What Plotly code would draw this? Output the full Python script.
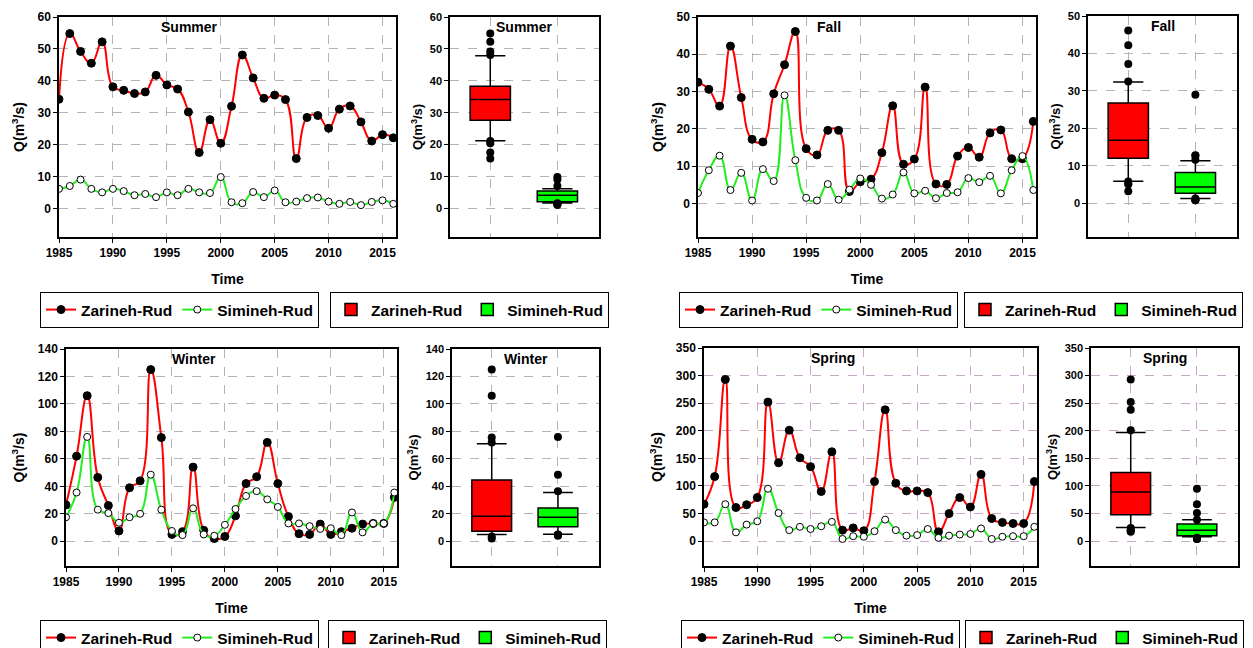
import numpy as np
import plotly.graph_objects as go

years = list(range(1985, 2017))

summer_zar = [34.2, 54.8, 49.2, 45.5, 52.2, 38.1, 37.0, 36.0, 36.5, 41.7, 38.7, 37.4, 30.2, 17.5, 27.8, 20.4,
              32.0, 48.1, 40.9, 34.5, 35.5, 34.1, 15.6, 28.5, 29.1, 25.1, 31.1, 32.1, 27.1, 21.1, 23.1, 22.1]
summer_sim = [6.1, 7.0, 9.0, 6.1, 5.0, 6.1, 5.4, 4.1, 4.5, 3.5, 5.0, 4.1, 6.1, 5.0, 4.8, 9.8,
              1.9, 1.6, 5.1, 3.5, 5.6, 1.9, 2.1, 3.2, 3.4, 2.1, 1.4, 2.0, 1.0, 2.0, 2.5, 1.4]
fall_zar = [32.5, 30.6, 26.1, 42.2, 28.4, 17.2, 16.5, 29.4, 37.2, 46.1, 14.7, 13.0, 19.6, 19.6, 3.2, 5.8,
            6.5, 13.6, 26.2, 10.5, 11.9, 31.2, 5.2, 5.1, 12.7, 15.0, 12.4, 18.9, 19.7, 12.0, 12.0, 22.0]
fall_sim = [2.8, 8.9, 12.8, 3.6, 8.2, 0.8, 9.2, 6.0, 29.0, 11.6, 1.5, 0.8, 5.2, 1.0, 3.7, 6.7,
            5.0, 1.3, 2.4, 8.3, 2.7, 3.4, 1.4, 2.8, 3.0, 6.8, 5.7, 7.4, 2.7, 8.9, 12.7, 3.6]
winter_zar = [26.5, 62, 106, 46.5, 26, 7.5, 39, 44, 125, 75.5, 5, 7, 54, 8, 2, 3.5,
              18.5, 42, 47, 72, 42, 18, 5.5, 5, 12.5, 5, 7, 9.5, 12.5, 13, 13, 32]
winter_sim = [17.5, 35.5, 76, 23, 20.5, 13.5, 17.5, 20, 48.5, 23, 7.5, 4.5, 24, 5, 4, 12,
              23.5, 33, 36.5, 30.5, 25, 13, 13, 11, 9, 9.5, 4.5, 21, 6.5, 13, 13, 35.5]
spring_zar = [67, 117, 293, 61, 66, 79, 252, 142, 201, 151, 135, 90, 162, 20, 24, 19,
              108, 238, 105, 91, 91, 88, 17, 50, 79, 62, 121, 41, 34, 32, 32, 108]
spring_sim = [34, 34, 67, 16, 30, 36, 95, 51, 20, 26, 22, 27, 35, 4, 9, 8,
              18, 39, 20, 10, 11, 22, 6, 10, 12, 13, 23, 4, 8, 9, 9, 26]

seasons = ["Summer", "Fall", "Winter", "Spring"]
series_names = ["Zarineh-Rud", "Simineh-Rud"]
year_ticks = [1985, 1990, 1995, 2000, 2005, 2010, 2015]

OFF = 8  # page body margin
W, H = 1253 - OFF, 648 - OFF

def px_x(a, b):
    return [(a - OFF) / W, (b - OFF) / W]

def px_y(top, bottom):
    return [1 - (bottom - OFF) / H, 1 - (top - OFF) / H]

def fx(a):
    return (a - OFF) / W

def fy(b):
    return 1 - (b - OFF) / H

cfg = {
    "Summer": dict(zar=summer_zar, sim=summer_sim, line=(59, 396, 17, 237), box=(450, 599, 17, 237),
                   yr=[-9, 60], dt=10, ymax=60, leg1=(40, 292), leg2=(330, 292), grid="#b4b4b4"),
    "Fall": dict(zar=fall_zar, sim=fall_sim, line=(698, 1036, 17, 237), box=(1088, 1237, 16, 237),
                 yr=[-9, 50], dt=10, ymax=50, leg1=(679, 292), leg2=(964, 292), grid="#b4b4b4"),
    "Winter": dict(zar=winter_zar, sim=winter_sim, line=(66, 397, 349, 566), box=(452, 599, 349, 566),
                   yr=[-18, 140], dt=20, ymax=140, leg1=(40, 620), leg2=(328, 620), grid="#b4b4b4"),
    "Spring": dict(zar=spring_zar, sim=spring_sim, line=(704, 1037, 348, 566), box=(1091, 1238, 348, 566),
                   yr=[-45, 350], dt=50, ymax=350, leg1=(681, 620), leg2=(965, 620), grid="#c8a8c8"),
}

RED = "#ff0000"
GREEN = "#00ff00"
LGREEN = "#22ee22"
FONT = "Liberation Sans"
LEGFONT = 15.5

fig = go.Figure()
layout = dict(width=W, height=H, margin=dict(l=0, r=0, t=0, b=0, autoexpand=False),
              paper_bgcolor="white", plot_bgcolor="white", showlegend=True,
              font=dict(family=FONT, size=12, color="black"))
annotations = []

ax_i = 0
leg_i = 0
for s in seasons:
    c = cfg[s]
    # ---- line panel ----
    ax_i += 1
    xa = "xaxis" if ax_i == 1 else f"xaxis{ax_i}"
    ya = "yaxis" if ax_i == 1 else f"yaxis{ax_i}"
    xr = "x" if ax_i == 1 else f"x{ax_i}"
    yr = "y" if ax_i == 1 else f"y{ax_i}"
    leg_i += 1
    lg = "legend" if leg_i == 1 else f"legend{leg_i}"
    x0, x1, y0, y1 = c["line"]
    yt = list(range(0, c["ymax"] + 1, c["dt"]))
    layout[xa] = dict(domain=px_x(x0, x1), anchor=yr, range=[1985, 2016.25], tickvals=year_ticks,
                      automargin=False,
                      showline=True, linecolor="black", linewidth=1.5, mirror=True,
                      ticks="outside", ticklen=4, tickcolor="black",
                      showgrid=True, gridcolor=c["grid"], griddash="dash", gridwidth=1,
                      zeroline=False, tickfont=dict(size=12, family=FONT, weight="bold"),
                      title=dict(text="<b>Time</b>", font=dict(size=14, family=FONT), standoff=15))
    layout[ya] = dict(domain=px_y(y0, y1), anchor=xr, range=c["yr"], tickvals=yt,
                      automargin=False,
                      showline=True, linecolor="black", linewidth=1.5, mirror=True,
                      ticks="outside", ticklen=4, tickcolor="black",
                      showgrid=True, gridcolor=c["grid"], griddash="dash", gridwidth=1,
                      zeroline=False, tickfont=dict(size=12, family=FONT, weight="bold"),
                      title=dict(text="<b>Q(m<sup>3</sup>/s)</b>", font=dict(size=14, family=FONT), standoff=10))
    fig.add_trace(go.Scatter(x=years, y=c["zar"], mode="lines+markers", name=series_names[0],
                             xaxis=xr, yaxis=yr, legend=lg,
                             line=dict(color=RED, width=2, shape="spline", smoothing=1.3),
                             marker=dict(color="black", size=8, line=dict(color="black", width=1))))
    fig.add_trace(go.Scatter(x=years, y=c["sim"], mode="lines+markers", name=series_names[1],
                             xaxis=xr, yaxis=yr, legend=lg,
                             line=dict(color=LGREEN, width=2, shape="spline", smoothing=1.3),
                             marker=dict(color="white", size=7, line=dict(color="black", width=1))))
    lx, ly = c["leg1"]
    layout[lg] = dict(x=fx(lx), y=fy(ly), xanchor="left", yanchor="top", orientation="h",
                      bordercolor="black", borderwidth=1, bgcolor="white",
                      font=dict(size=LEGFONT, family=FONT, weight="bold"), itemwidth=30,
                      tracegroupgap=0)
    annotations.append(dict(x=fx((x0 + x1) / 2 - 38), y=fy(y0 + 10), xref="paper", yref="paper",
                            text=f"<b>{s}</b>", showarrow=False, font=dict(size=14, family=FONT),
                            xanchor="center", yanchor="middle"))

    # ---- box panel ----
    ax_i += 1
    xa = f"xaxis{ax_i}"
    ya = f"yaxis{ax_i}"
    xr = f"x{ax_i}"
    yr = f"y{ax_i}"
    leg_i += 1
    lg = f"legend{leg_i}"
    bx0, bx1, by0, by1 = c["box"]
    layout[xa] = dict(domain=px_x(bx0, bx1), anchor=yr, range=[0.4, 2.62], tickvals=[1, 2],
                      showticklabels=False, ticks="", automargin=False,
                      showline=True, linecolor="black", linewidth=1.5, mirror=True,
                      showgrid=True, gridcolor=c["grid"], griddash="dash", gridwidth=1, zeroline=False)
    layout[ya] = dict(domain=px_y(by0, by1), anchor=xr, range=c["yr"], tickvals=yt,
                      automargin=False,
                      showline=True, linecolor="black", linewidth=1.5, mirror=True,
                      ticks="outside", ticklen=4, tickcolor="black",
                      showgrid=True, gridcolor=c["grid"], griddash="dash", gridwidth=1,
                      zeroline=False, tickfont=dict(size=11, family=FONT, weight="bold"),
                      title=dict(text="<b>Q(m<sup>3</sup>/s)</b>", font=dict(size=13, family=FONT), standoff=4))
    for k, (name, vals, col) in enumerate([(series_names[0], c["zar"], RED), (series_names[1], c["sim"], GREEN)]):
        arr = np.array(vals, dtype=float)
        q1, med, q3 = np.percentile(arr, [25, 50, 75])
        lo, hi = np.percentile(arr, [10, 90])
        pos = k + 1
        fig.add_trace(go.Box(x=[pos], q1=[q1], median=[med], q3=[q3], lowerfence=[lo], upperfence=[hi],
                             name=name, xaxis=xr, yaxis=yr, legend=lg, width=0.6, whiskerwidth=0.75,
                             fillcolor=col, line=dict(color="black", width=1.5), boxpoints=False,
                             orientation="v"))
        out = arr[(arr > hi) | (arr < lo)]
        fig.add_trace(go.Scatter(x=[pos] * len(out), y=out, mode="markers", showlegend=False,
                                 xaxis=xr, yaxis=yr, marker=dict(color="black", size=8)))
    lx, ly = c["leg2"]
    layout[lg] = dict(x=fx(lx), y=fy(ly), xanchor="left", yanchor="top", orientation="h",
                      bordercolor="black", borderwidth=1, bgcolor="white",
                      font=dict(size=LEGFONT, family=FONT, weight="bold"), itemwidth=30,
                      tracegroupgap=0)
    annotations.append(dict(x=fx((bx0 + bx1) / 2), y=fy(by0 + 10), xref="paper", yref="paper",
                            text=f"<b>{s}</b>", showarrow=False, font=dict(size=14, family=FONT),
                            xanchor="center", yanchor="middle"))

layout["annotations"] = annotations
fig.update_layout(**layout)
fig.write_html("out.html")
